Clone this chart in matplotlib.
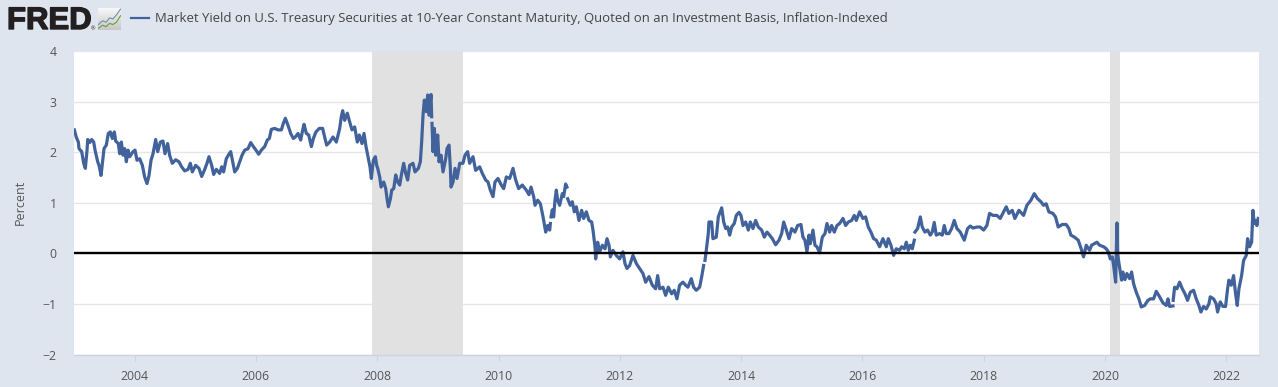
import matplotlib
matplotlib.use("Agg")
import matplotlib.pyplot as plt
import matplotlib.patheffects as pe
import numpy as np

nan = float("nan")

# dates are decimal years counted from 2000, yields are percent
dates_a = [3.006,3.039,3.072,3.083,3.127,3.16,3.187,3.215,3.226,3.259,3.292,3.325,3.347,3.391,3.413,3.446,3.473,3.495,3.533,3.566,3.599,3.632,3.665,3.687,3.731,3.753,3.781,3.808,3.836,3.863,3.891,3.918,3.973,4.006,4.039,4.083,4.127,4.165,4.204,4.237,4.27,4.303,4.347,4.38,4.424,4.467,4.5,4.544,4.577,4.621,4.676,4.731,4.775,4.825,4.88,4.918,4.951,5.006,5.061,5.105,5.149,5.193,5.226,5.27,5.303,5.347,5.402,5.435,5.467,5.511,5.555]
yield_a = [2.44,2.29,2.20,2.07,2.01,1.78,1.68,2.04,2.25,2.19,2.25,2.20,2.04,1.81,1.74,1.54,1.84,2.07,2.14,2.37,2.40,2.27,2.40,2.22,2.17,1.97,2.20,1.94,2.07,1.81,2.04,1.91,2.01,2.04,1.84,1.87,1.74,1.51,1.38,1.54,1.84,1.97,2.25,2.01,2.20,2.22,1.97,2.17,1.94,1.78,1.85,1.81,1.71,1.63,1.66,1.78,1.61,1.74,1.68,1.52,1.64,1.78,1.91,1.74,1.56,1.66,1.58,1.71,1.61,1.87,1.96]

dates_b = [5.584,5.617,5.65,5.694,5.732,5.771,5.815,5.87,5.914,5.958,6.001,6.045,6.089,6.144,6.188,6.221,6.254,6.309,6.364,6.419,6.452,6.485,6.529,6.573,6.617,6.65,6.694,6.738,6.771,6.793,6.831,6.87,6.914,6.947,6.99,7.045,7.1,7.133,7.166,7.216,7.271,7.326,7.381,7.408,7.43,7.463,7.507,7.545,7.584,7.628,7.672,7.705,7.749,7.782,7.815,7.848,7.881,7.903,7.936,7.969,7.991]
yield_b = [2.01,1.81,1.61,1.68,1.81,1.94,2.04,2.07,2.19,2.11,2.04,1.96,2.04,2.11,2.24,2.27,2.45,2.47,2.44,2.44,2.57,2.67,2.53,2.37,2.27,2.30,2.37,2.24,2.44,2.55,2.37,2.34,2.11,2.27,2.40,2.47,2.47,2.30,2.14,2.20,2.30,2.20,2.47,2.70,2.82,2.63,2.77,2.60,2.44,2.50,2.20,2.34,2.17,2.37,2.11,1.91,1.71,1.48,1.84,1.91,1.74]

dates_c = [8.008,8.041,8.063,8.107,8.14,8.162,8.184,8.217,8.239,8.272,8.305,8.338,8.371,8.403,8.436,8.469,8.502,8.535,8.59,8.623,8.678,8.711,8.733,8.755,8.777,8.81,8.832,8.854,8.887,8.898,8.9,8.903,8.92,8.942,8.964,8.997,9.019,9.052,9.085,9.129,9.151,9.184,9.206,9.217,9.25,9.283,9.316,9.36,9.414,9.447,9.491,9.524,9.579,9.623,9.689,9.733,9.788,9.827,9.865,9.909,9.942,9.991,10.046,10.085,10.129,10.184,10.239,10.283,10.332,10.392,10.458,10.502]
yield_c = [1.68,1.51,1.31,1.41,1.28,1.08,0.92,1.08,1.25,1.28,1.55,1.41,1.35,1.58,1.78,1.58,1.45,1.74,1.78,1.61,1.68,1.81,2.21,2.73,3.03,2.80,3.13,2.73,3.14,2.70,nan,2.57,2.01,2.47,1.94,2.34,1.81,1.94,1.61,1.87,2.07,2.14,1.68,1.31,1.41,1.68,1.48,1.78,1.78,1.94,2.01,1.78,1.91,1.64,1.71,1.58,1.45,1.41,1.25,1.12,1.41,1.48,1.35,1.28,1.51,1.48,1.68,1.45,1.28,1.35,1.25,1.16]

dates_d = [10.536,10.58,10.602,10.646,10.69,10.723,10.745,10.778,10.811,10.844,10.855,10.86,10.866,10.887,10.909,10.931,10.953,10.975,11.008,11.052,11.074,11.107,11.129,11.135,11.14,11.184,11.217,11.25,11.283,11.327,11.371,11.404,11.448,11.492,11.536,11.558,11.591,11.602,11.635,11.668,11.712,11.756,11.789,11.822,11.844,11.887,11.942,11.997,12.052,12.085,12.118,12.162,12.217,12.272,12.327,12.382,12.426,12.481,12.536,12.591,12.624,12.657,12.712,12.756,12.8,12.855,12.898,12.942,12.986,13.041,13.085,13.124,13.179,13.217,13.261,13.316,13.349,13.382,13.393,13.404,13.426,13.459,13.47,13.514,13.536,13.591,13.624,13.646]
yield_d = [1.31,1.12,0.95,1.05,0.98,0.79,0.65,0.42,0.55,0.46,0.59,nan,0.72,0.86,0.72,1.05,1.25,1.05,0.95,1.18,1.12,1.37,1.31,nan,1.08,0.95,1.02,0.82,0.92,0.65,0.85,0.69,0.82,0.65,0.62,0.46,0.13,-0.11,0.22,0.03,0.16,0.09,0.29,0.16,-0.07,0.06,-0.04,-0.11,0.03,-0.20,-0.30,-0.24,-0.04,-0.20,-0.30,-0.40,-0.57,-0.46,-0.63,-0.70,-0.44,-0.70,-0.67,-0.83,-0.67,-0.80,-0.73,-0.90,-0.63,-0.57,-0.63,-0.67,-0.50,-0.67,-0.73,-0.67,-0.47,-0.24,nan,-0.14,0.06,0.39,0.62,0.62,0.29,0.32,0.72,0.79]

dates_e = [13.68,13.713,13.746,13.779,13.812,13.844,13.888,13.921,13.965,13.998,14.031,14.075,14.119,14.152,14.196,14.24,14.284,14.339,14.383,14.427,14.471,14.515,14.57,14.625,14.669,14.702,14.746,14.79,14.834,14.888,14.932,14.987,15.02,15.053,15.086,15.119,15.141,15.185,15.218,15.251,15.295,15.339,15.383,15.416,15.46,15.493,15.537,15.581,15.625,15.68,15.724,15.768,15.823,15.866,15.899,15.954,16.009,16.053,16.097,16.141,16.185,16.229,16.284,16.339,16.394,16.427,16.471,16.515,16.559,16.614]
yield_e = [0.90,0.62,0.49,0.52,0.36,0.52,0.59,0.75,0.81,0.75,0.55,0.62,0.46,0.62,0.49,0.65,0.52,0.46,0.32,0.42,0.36,0.29,0.17,0.26,0.39,0.62,0.46,0.29,0.49,0.42,0.55,0.57,0.32,0.26,0.03,0.36,0.19,0.46,0.16,0.13,0.01,0.32,0.39,0.59,0.42,0.55,0.42,0.55,0.59,0.69,0.55,0.62,0.65,0.75,0.65,0.82,0.69,0.72,0.52,0.42,0.29,0.26,0.13,0.29,0.13,0.29,0.16,-0.04,0.09,0.06]

dates_f = [16.647,16.691,16.724,16.757,16.79,16.823,16.856,16.862,16.867,16.911,16.955,16.987,17.031,17.075,17.119,17.152,17.185,17.218,17.273,17.317,17.35,17.383,17.427,17.471,17.515,17.559,17.614,17.68,17.735,17.779,17.823,17.889,17.943,17.998,18.053,18.097,18.152,18.218,18.273,18.328,18.372,18.416,18.471,18.515,18.581,18.658,18.713,18.779,18.834,18.889,18.944,18.987,19.031,19.075,19.141,19.185,19.229,19.295,19.361,19.405,19.438,19.498,19.559,19.608,19.647,19.691,19.746]
yield_f = [0.13,0.09,0.22,0.06,0.16,0.09,0.26,nan,0.42,0.49,0.72,0.52,0.42,0.46,0.36,0.42,0.61,0.36,0.39,0.36,0.55,0.39,0.39,0.49,0.65,0.49,0.42,0.26,0.49,0.54,0.50,0.52,0.52,0.46,0.55,0.79,0.75,0.75,0.69,0.82,0.92,0.79,0.85,0.69,0.85,0.75,0.95,1.05,1.18,1.08,1.02,0.95,0.98,0.82,0.79,0.72,0.52,0.57,0.57,0.49,0.36,0.32,0.26,0.09,-0.07,0.16,0.06]

dates_g = [19.78,19.824,19.868,19.912,19.978,20.022,20.055,20.088,20.121,20.143,20.176,20.198,20.209,20.231,20.253,20.275,20.296,20.329,20.362,20.406,20.439,20.472,20.516,20.56,20.599,20.654,20.709,20.747,20.802,20.846,20.901,20.956,21.011,21.038,21.066,21.121,21.123,21.125,21.148,21.187,21.231,21.275,21.319,21.362,21.406,21.461,21.505,21.549,21.582,21.626,21.67,21.714,21.736,21.791,21.835,21.857,21.901,21.945,21.989,22.022,22.044,22.082,22.121,22.154,22.181,22.209,22.253,22.286,22.33,22.352,22.385,22.418,22.44,22.462,22.484,22.505,22.527]
yield_g = [0.16,0.19,0.22,0.16,0.13,0.09,0.03,-0.11,-0.07,-0.24,-0.57,0.60,-0.01,-0.20,-0.37,-0.53,-0.37,-0.52,-0.40,-0.50,-0.37,-0.60,-0.77,-0.90,-1.06,-1.03,-0.93,-0.90,-0.90,-0.75,-0.86,-0.98,-1.03,-0.90,-1.05,-1.04,nan,-0.93,-0.67,-0.70,-0.57,-0.70,-0.80,-0.93,-0.77,-0.73,-0.90,-1.03,-1.16,-1.05,-1.10,-1.00,-0.86,-0.90,-1.00,-1.16,-0.96,-1.05,-1.05,-0.70,-0.53,-0.63,-0.44,-0.80,-1.03,-0.70,-0.44,-0.14,-0.04,0.29,0.13,0.22,0.85,0.59,0.65,0.55,0.69]

recession_starts = [2007.92, 2020.08]
recession_ends = [2009.41, 2020.24]
year_ticks = [2004, 2006, 2008, 2010, 2012, 2014, 2016, 2018, 2020, 2022]
percent_ticks = [-2, -1, 0, 1, 2, 3, 4]
legend_label = "Market Yield on U.S. Treasury Securities at 10-Year Constant Maturity, Quoted on an Investment Basis, Inflation-Indexed"
y_title = "Percent"

BG = "#dfe5ef"
LINE = "#41629b"
TXT = "#555555"
W, H = 1278, 387

plt.rcParams["font.family"] = ["Open Sans", "DejaVu Sans"]
fig = plt.figure(figsize=(W / 100, H / 100), dpi=100, facecolor=BG)
ax = fig.add_axes([74 / W, 1 - 354.5 / H, (1259 - 74) / W, (354.5 - 51) / H], facecolor="white")

dates = np.array(dates_a + dates_b + dates_c + dates_d + dates_e + dates_f + dates_g) + 2000
yields = np.array(yield_a + yield_b + yield_c + yield_d + yield_e + yield_f + yield_g)

ax.set_xlim(2003.0, 2022.54)
ax.set_ylim(-2, 4)
ax.set_yticks(percent_ticks)
ax.set_xticks(year_ticks)
ax.grid(axis="y", color="#e6e6e6", lw=1.0, zorder=0)
ax.set_axisbelow(True)
for s0, s1 in zip(recession_starts, recession_ends):
    ax.axvspan(s0, s1, color="#e1e1e1", lw=0, zorder=1)
ax.plot(dates, yields, color=LINE, lw=2.3, solid_joinstyle="round", zorder=3)
ax.axhline(0, color="black", lw=1.7, zorder=4)

for s in ("top", "left", "right"):
    ax.spines[s].set_visible(False)
ax.spines["bottom"].set_color("#c8d3e4")
ax.spines["bottom"].set_linewidth(1.0)
ax.tick_params(axis="x", length=4, width=0.8, color="#c8d3e4", labelcolor=TXT, labelsize=8.8, pad=7.5)
ax.tick_params(axis="y", length=0, labelcolor=TXT, labelsize=8.8, pad=12.5)
ax.set_ylabel(y_title, color=TXT, fontsize=9.0)
ax.yaxis.set_label_coords((27 - 74) / (1259 - 74), 0.5)

# legend row
fig.add_artist(plt.Line2D([131 / W, 149 / W], [1 - 18 / H] * 2, color=LINE, lw=1.6))
fig.text(155 / W, 1 - 18.5 / H, legend_label, color="#444444", fontsize=9.42, va="center", ha="left")

# FRED wordmark and icon
logo = fig.text(7 / W, 1 - 29 / H, "FRED", family="Liberation Sans", weight="bold", fontsize=22.4,
                color="#231f20", va="baseline", ha="left")
logo.set_path_effects([pe.withStroke(linewidth=1.0, foreground="#231f20")])
fig.text(91 / W, 1 - 28.5 / H, "®", fontsize=4, color="#231f20", va="center", ha="left")
icon = fig.add_axes([98 / W, 1 - 30 / H, 23 / W, 22 / H])
icon.imshow(np.linspace(0.97, 0.78, 32).reshape(-1, 1), cmap="gray", vmin=0, vmax=1,
            aspect="auto", extent=(0, 1, 0, 1))
icon_x = [0.02, 0.2, 0.35, 0.5, 0.65, 0.8, 0.98]
icon_blue = [0.25, 0.42, 0.35, 0.55, 0.5, 0.68, 0.95]
icon_green = [0.08, 0.22, 0.15, 0.3, 0.25, 0.35, 0.65]
icon.plot(icon_x, icon_blue, color="#6f8fae", lw=0.8)
icon.plot(icon_x, icon_green, color="#6e9a3c", lw=0.8)
icon.set_xlim(0, 1)
icon.set_ylim(0, 1)
icon.axis("off")

fig.savefig("out.png", dpi=100, facecolor=BG)
